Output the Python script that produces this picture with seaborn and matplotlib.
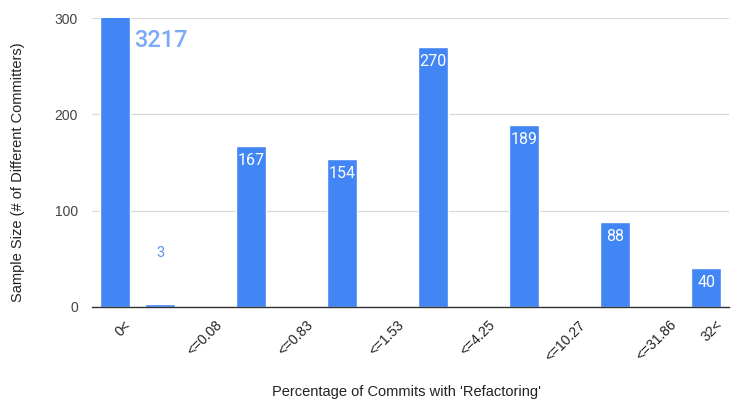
import numpy as np
import pandas as pd
import matplotlib
matplotlib.use("Agg")
import matplotlib.pyplot as plt
import seaborn as sns
from matplotlib.transforms import ScaledTranslation

# --- data ---
slot_labels = ["0<", "", "<=0.08", "", "<=0.83", "", "<=1.53", "", "<=4.25", "",
               "<=10.27", "", "<=31.86", "32<"]
slot_values = [3217, 3, np.nan, 167, np.nan, 154, np.nan, 270, np.nan, 189,
               np.nan, 88, np.nan, 40]
y_ticks = [0, 100, 200, 300]
x_title = "Percentage of Commits with 'Refactoring'"
y_title = "Sample Size (# of Different Committers)"

sns.set_theme(style="white")
plt.rcParams['font.family'] = ['Liberation Sans', 'DejaVu Sans']
value_font = ['Roboto', 'DejaVu Sans']

df = pd.DataFrame({"slot": list(range(len(slot_values))), "value": slot_values})

fig = plt.figure(figsize=(7.46, 4.03), dpi=100)
ax = fig.add_axes([92/746, (403-307)/403, 637/746, 289/403])

bar_color = "#4285F4"
sns.barplot(data=df, x="slot", y="value", order=list(range(len(slot_values))),
            color=bar_color, width=0.66, saturation=1, ax=ax, errorbar=None)

ymax = y_ticks[-1]
ax.set_ylim(0, ymax)
ax.set_xlim(-0.5, len(slot_values) - 0.5)
ax.set_yticks(y_ticks)
ax.set_yticklabels([str(t) for t in y_ticks], fontsize=10, color="#444444")
ax.yaxis.grid(True, color="#d9d9d9", linewidth=0.9)
ax.set_axisbelow(True)
for s in ["top", "right", "left"]:
    ax.spines[s].set_visible(False)
ax.spines["bottom"].set_color("#333333")
ax.spines["bottom"].set_linewidth(1.0)
ax.tick_params(axis="both", length=0)
ax.tick_params(axis="y", pad=10)

ax.set_xticks(range(len(slot_labels)))
ax.set_xticklabels(slot_labels, rotation=45, ha="right", rotation_mode="anchor",
                   fontsize=10, color="#222222")
offset = ScaledTranslation(9/100, -6/100, fig.dpi_scale_trans)
for lbl in ax.get_xticklabels():
    lbl.set_transform(lbl.get_transform() + offset)

ax.set_xlabel("")
ax.set_ylabel("")
fig.text(407/746, 1 - 392/403, x_title, ha="center", va="center",
         fontsize=10.5, color="#222222")
fig.text(18/746, 1 - 172/403, y_title, ha="center", va="center", rotation=90,
         fontsize=10.5, color="#222222")

# value labels
for i, v in enumerate(slot_values):
    if np.isnan(v):
        continue
    if v > ymax:
        ax.annotate(str(int(v)), xy=(i, ymax), xytext=(14, -16), textcoords="offset points",
                    ha="left", va="center", fontsize=17, color="#7baaf7",
                    fontweight="medium", family=value_font)
    elif v < 20:
        ax.annotate(str(int(v)), xy=(i, v), xytext=(0, 37), textcoords="offset points",
                    ha="center", va="center", fontsize=10.5, color="#5b93f0",
                    family=value_font)
    else:
        ax.annotate(str(int(v)), xy=(i, v), xytext=(0, -5), textcoords="offset points",
                    ha="center", va="top", fontsize=11.5, color="white",
                    family=value_font)

fig.savefig("out.png", dpi=100)
